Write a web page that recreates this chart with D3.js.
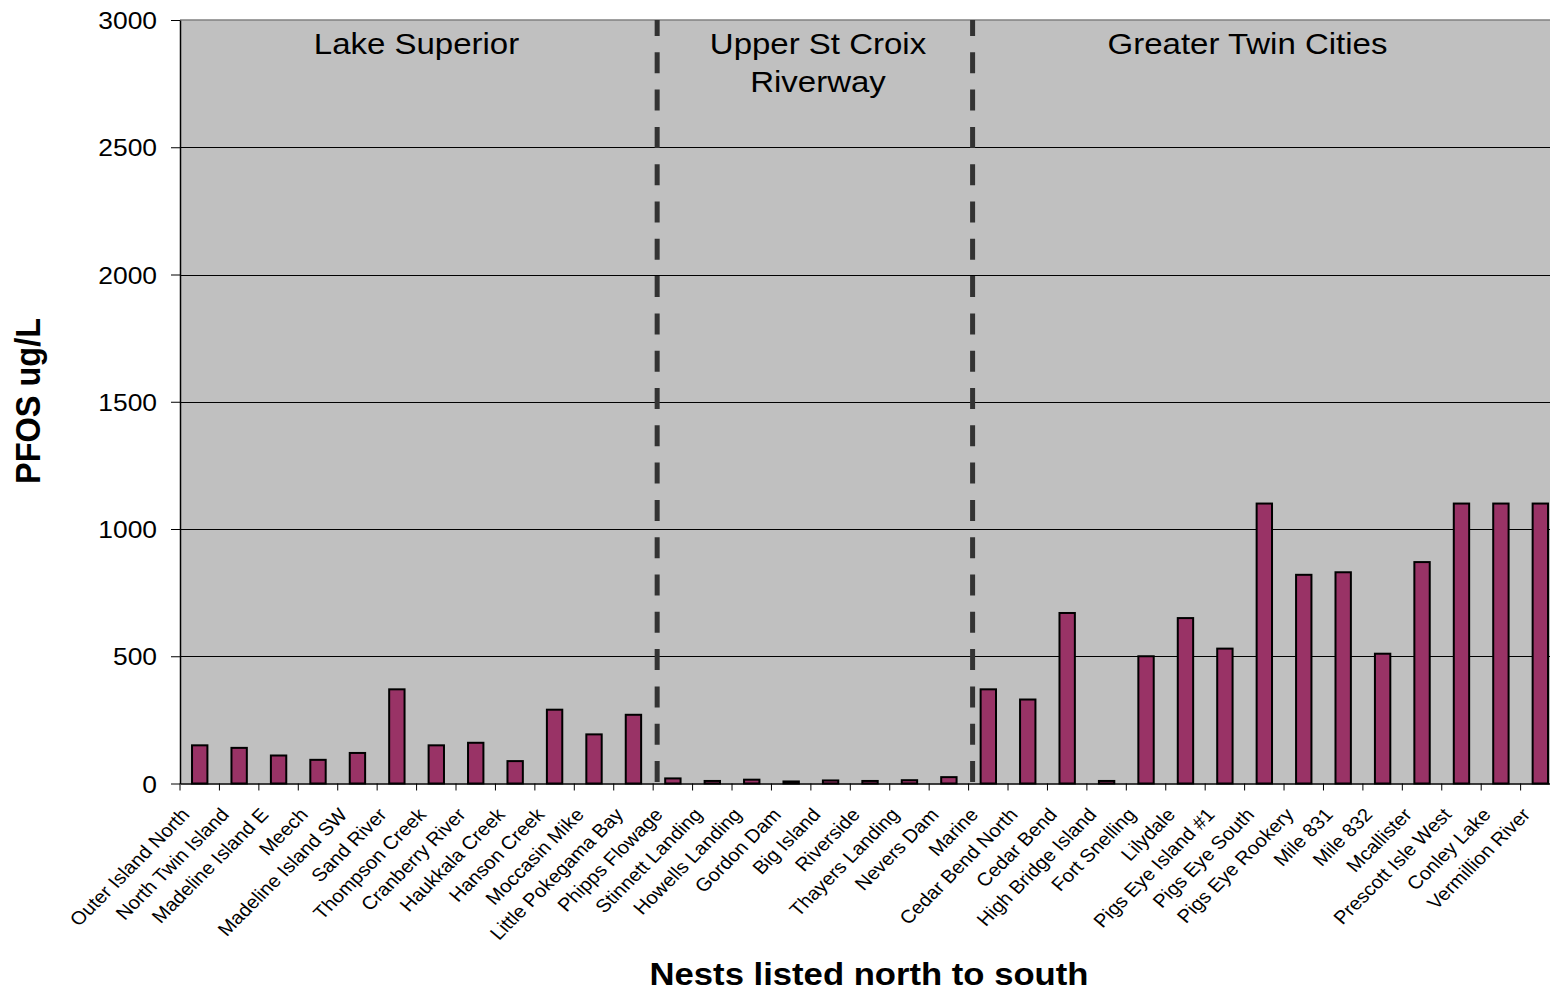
<!DOCTYPE html>
<html>
<head>
<meta charset="utf-8">
<script src="https://cdn.jsdelivr.net/npm/d3@7"></script>
<style>
  html, body { margin: 0; padding: 0; background: #ffffff; }
  svg { display: block; font-family: "Liberation Sans", Arial, sans-serif; }
</style>
</head>
<body>
<svg id="chart" width="1550" height="992"></svg>
<script>
// ---- data ----
const categories = [
  "Outer Island North", "North Twin Island", "Madeline Island E", "Meech",
  "Madeline Island SW", "Sand River", "Thompson Creek", "Cranberry River",
  "Haukkala Creek", "Hanson Creek", "Moccasin Mike", "Little Pokegama Bay",
  "Phipps Flowage", "Stinnett Landing", "Howells Landing", "Gordon Dam",
  "Big Island", "Riverside", "Thayers Landing", "Nevers Dam",
  "Marine", "Cedar Bend North", "Cedar Bend", "High Bridge Island",
  "Fort Snelling", "Lilydale", "Pigs Eye Island #1", "Pigs Eye South",
  "Pigs Eye Rookery", "Mile 831", "Mile 832", "Mcallister",
  "Prescott Isle West", "Conley Lake", "Vermillion River"
];
const pfosValues = [
  150, 140, 110, 93,
  120, 370, 150, 160,
  88, 290, 193, 270,
  20, 10, 15, 8,
  12, 10, 13, 25,
  370, 330, 670, 10,
  500, 650, 530, 1100,
  820, 830, 510, 870,
  1100, 1100, 1100
];
const yTickValues = [0, 500, 1000, 1500, 2000, 2500, 3000];
const regionNames = [["Lake Superior"], ["Upper St Croix", "Riverway"], ["Greater Twin Cities"]];
const separatorAfter = ["Little Pokegama Bay", "Nevers Dam"];
const yTitle = "PFOS ug/L";
const xTitle = "Nests listed north to south";

// ---- layout ----
const plotLeft = 180, plotTop = 20, plotBottom = 783.5;
const bandW = 39.43;
const stretch = 1.1;

const svg = d3.select("#chart");

const x = d3.scaleBand().domain(categories)
  .range([plotLeft, plotLeft + bandW * categories.length]).padding(0);
const y = d3.scaleLinear().domain([0, 3000]).range([plotBottom, plotTop]);

// plot background
svg.append("rect")
  .attr("x", plotLeft).attr("y", plotTop)
  .attr("width", x.range()[1] - plotLeft).attr("height", plotBottom - plotTop)
  .attr("fill", "#c0c0c0");

// gridlines
svg.append("g").selectAll("line")
  .data(yTickValues.filter(v => v > 0 && v < 3000))
  .join("line")
  .attr("x1", plotLeft).attr("x2", x.range()[1])
  .attr("y1", d => Math.round(y(d)) + 0.5).attr("y2", d => Math.round(y(d)) + 0.5)
  .attr("stroke", "#000").attr("stroke-width", 1);

// top border
svg.append("line")
  .attr("x1", plotLeft).attr("x2", x.range()[1])
  .attr("y1", y(3000)).attr("y2", y(3000))
  .attr("stroke", "#808080").attr("stroke-width", 1.5);

// bars
const barW = x.bandwidth() * 0.39;
svg.append("g").selectAll("rect")
  .data(categories.map((c, i) => ({ c, v: pfosValues[i] })))
  .join("rect")
  .attr("x", d => x(d.c) + x.bandwidth() / 2 - barW / 2)
  .attr("width", barW)
  .attr("y", d => y(d.v))
  .attr("height", d => y(0) - y(d.v))
  .attr("fill", "#993366")
  .attr("stroke", "#000")
  .attr("stroke-width", 2);

// separators (dashed)
svg.append("g").selectAll("line")
  .data(separatorAfter)
  .join("line")
  .attr("x1", d => x(d) + x.bandwidth() + 4)
  .attr("x2", d => x(d) + x.bandwidth() + 4)
  .attr("y1", plotTop).attr("y2", plotBottom)
  .attr("stroke", "#333333").attr("stroke-width", 5)
  .attr("stroke-dasharray", "21,16.3")
  .attr("stroke-dashoffset", 5);

// y axis
const yAxis = d3.axisLeft(y).tickValues(yTickValues).tickSize(9).tickSizeOuter(0).tickFormat(d3.format("d"));
const gy = svg.append("g").attr("transform", `translate(${plotLeft},0)`).call(yAxis);
gy.select(".domain").attr("stroke", "#000").attr("stroke-width", 1.5);
gy.selectAll(".tick line").attr("stroke", "#000");
gy.selectAll(".tick text").remove();
gy.selectAll(".tick").append("g")
  .attr("transform", `translate(-23,0) scale(${stretch},1)`)
  .append("text")
  .attr("text-anchor", "end")
  .attr("dy", "0.36em")
  .attr("font-size", 24)
  .attr("fill", "#000")
  .text(d => d);

// x axis
const xAxis = d3.axisBottom(x).tickSize(0).tickSizeOuter(0);
const gx = svg.append("g").attr("transform", `translate(0,${plotBottom})`).call(xAxis);
gx.select(".domain").attr("stroke", "#000").attr("stroke-width", 1.5);
gx.selectAll(".tick text").remove();
gx.selectAll(".tick line").remove();
// boundary ticks
gx.append("g").selectAll("line")
  .data(categories)
  .join("line")
  .attr("x1", d => x(d)).attr("x2", d => x(d))
  .attr("y1", 0).attr("y2", 7)
  .attr("stroke", "#000").attr("stroke-width", 1);
// rotated labels
gx.selectAll(".tick").append("g")
  .attr("transform", `translate(-9,32) scale(${stretch},1) rotate(-47.7)`)
  .append("text")
  .attr("text-anchor", "end")
  .attr("font-size", 18.5)
  .attr("fill", "#000")
  .text(d => d);

// region labels
const regionCenters = [416.5, 818, 1247.5];
regionNames.forEach((lines, i) => {
  const g = svg.append("g")
    .attr("transform", `translate(${regionCenters[i]},54) scale(${stretch},1)`);
  lines.forEach((ln, j) => {
    g.append("text")
      .attr("text-anchor", "middle")
      .attr("y", j * 38)
      .attr("font-size", 30)
      .attr("fill", "#000")
      .text(ln);
  });
});

// axis titles
svg.append("g")
  .attr("transform", `translate(40,401) scale(${stretch},1) rotate(-90)`)
  .append("text")
  .attr("text-anchor", "middle")
  .attr("font-size", 32.5)
  .attr("font-weight", "bold")
  .attr("fill", "#000")
  .text(yTitle);

svg.append("g")
  .attr("transform", `translate(869,985) scale(${stretch},1)`)
  .append("text")
  .attr("text-anchor", "middle")
  .attr("font-size", 31.5)
  .attr("font-weight", "bold")
  .attr("fill", "#000")
  .text(xTitle);
</script>
</body>
</html>
